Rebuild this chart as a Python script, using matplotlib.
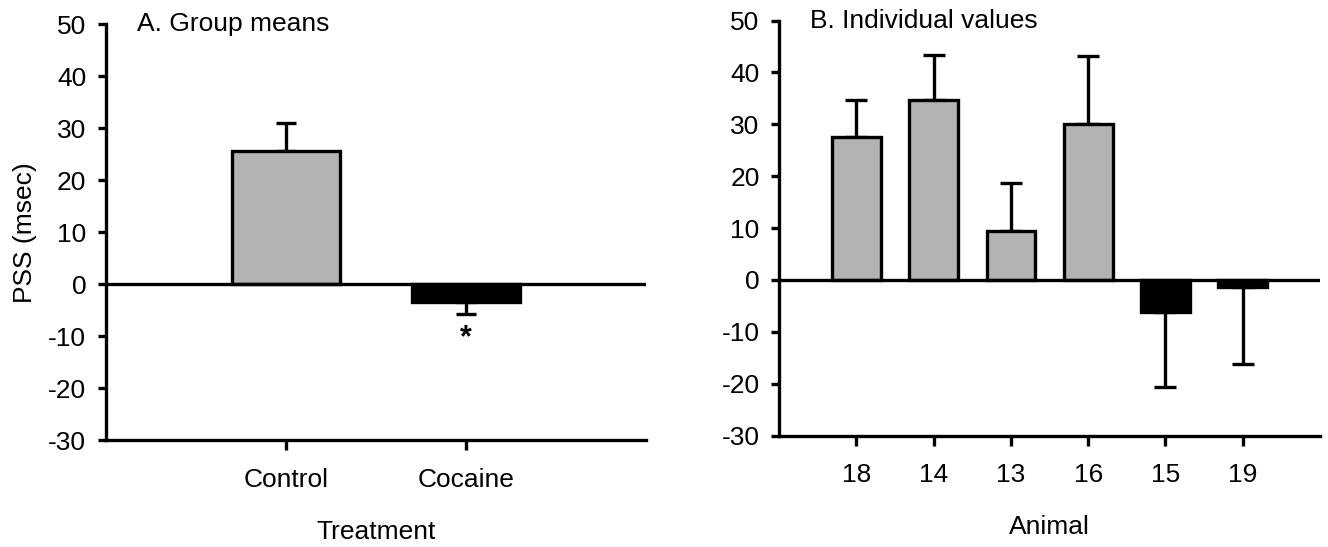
import numpy as np
import matplotlib.pyplot as plt

plt.rcParams['font.family'] = ['Liberation Sans', 'DejaVu Sans']
plt.rcParams['axes.unicode_minus'] = False

# panel A: group means
groups = ['Control', 'Cocaine']
group_means = [25.6, -3.5]
group_err = [5.5, 2.2]

# panel B: individual animals
animals = ['18', '14', '13', '16', '15', '19']
animal_vals = [27.5, 34.6, 9.5, 30.0, -6.1, -1.3]
animal_err = [7.2, 8.7, 9.1, 13.2, 14.6, 14.9]

GRAY = '#b3b3b3'
LW = 2.4
FS = 19

fig = plt.figure(figsize=(13.28, 5.47), dpi=100)
axA = fig.add_axes([0.0796, 0.1956, 0.4068, 0.76])
axB = fig.add_axes([0.5866, 0.2035, 0.4074, 0.759])


def one_sided(vals, errs):
    lo = [e if v < 0 else 0 for v, e in zip(vals, errs)]
    hi = [e if v >= 0 else 0 for v, e in zip(vals, errs)]
    return [lo, hi]


def draw_panel(ax, labels, vals, errs, width, capsize):
    x = np.arange(1, len(vals) + 1)
    colors = [GRAY if v >= 0 else 'black' for v in vals]
    ax.errorbar(x, vals, yerr=one_sided(vals, errs), fmt='none', ecolor='black',
                elinewidth=LW, capsize=capsize, capthick=LW, zorder=1)
    ax.bar(x, vals, width=width, color=colors, edgecolor='black', linewidth=LW, zorder=2)
    ax.axhline(0, color='black', linewidth=LW, zorder=3)
    ax.set_xlim(0, len(vals) + 1)
    ax.set_ylim(-30, 50)
    ax.set_yticks(np.arange(-30, 51, 10))
    ax.set_xticks(x)
    ax.set_xticklabels(labels)
    for s in ['top', 'right']:
        ax.spines[s].set_visible(False)
    for s in ['left', 'bottom']:
        ax.spines[s].set_linewidth(LW)
    ax.tick_params(axis='y', direction='out', length=6, width=LW, labelsize=FS, pad=8)
    ax.tick_params(axis='x', direction='out', length=7, width=LW, labelsize=FS, pad=13)


draw_panel(axA, groups, group_means, group_err, 0.6, 7)
draw_panel(axB, animals, animal_vals, animal_err, 0.63, 8)

axA.text(0.057, 1.0, 'A. Group means', transform=axA.transAxes, fontsize=FS,
         ha='left', va='center')
axB.text(0.057, 1.0, 'B. Individual values', transform=axB.transAxes, fontsize=FS,
         ha='left', va='center')
axA.text(2, -10.5, '*', fontsize=22, fontweight='bold', ha='center', va='center')

axA.set_ylabel('PSS (msec)', fontsize=FS, labelpad=8)
axA.set_xlabel('Treatment', fontsize=FS, labelpad=20)
axB.set_xlabel('Animal', fontsize=FS, labelpad=20)

fig.savefig('out.png', dpi=100)
